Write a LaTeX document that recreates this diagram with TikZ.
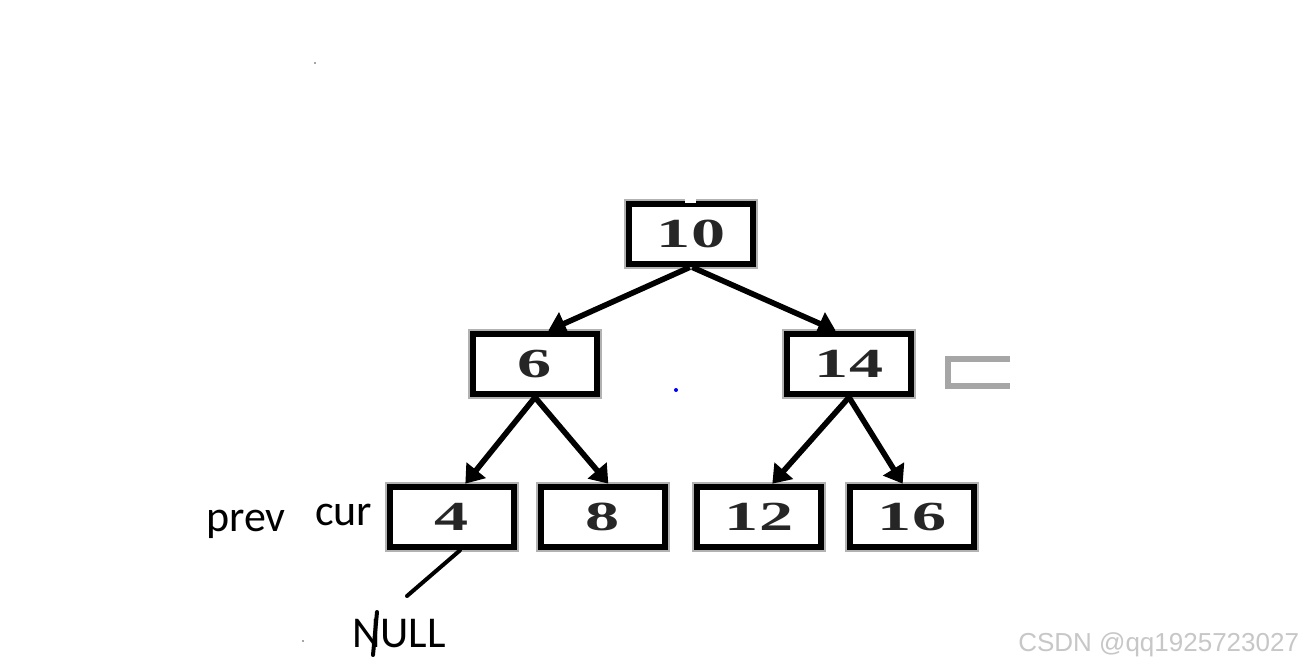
\documentclass[tikz,border=0pt]{standalone}
\usepackage{fontspec}
\setmainfont{Liberation Serif}
\newfontfamily\hand{Carlito}
\newfontfamily\wm{Liberation Sans}
\usetikzlibrary{arrows.meta}
\begin{document}
\begin{tikzpicture}[x=0.75pt,y=-0.75pt,
  tbox/.style={draw=black,line width=4.5pt,fill=white,minimum width=93pt,minimum height=45.5pt,inner sep=0pt,
    preaction={draw=black!30,line width=7.5pt},
    font=\fontsize{31pt}{31pt}\selectfont\bfseries},
  arr/.style={line width=4.2pt,-{Triangle[length=13pt,width=18pt]}},
  hand/.style={font=\hand\fontsize{33pt}{33pt}\selectfont,inner sep=0pt,anchor=base west},
  penline/.style={line width=3pt,line cap=round}]
\useasboundingbox[fill=white] (0,0) rectangle (1304,666);
% nodes
\node[tbox] (n10) at (691,234) {\scalebox{1.65}[1]{\textcolor{black!85}{10}}};
\node[tbox] (n6)  at (535,364) {\scalebox{1.65}[1]{\textcolor{black!85}{6}}};
\node[tbox] (n14) at (849,364) {\scalebox{1.65}[1]{\textcolor{black!85}{14}}};
\node[tbox] (n4)  at (452,517) {\scalebox{1.65}[1]{\textcolor{black!85}{4}}};
\node[tbox] (n8)  at (603,517) {\scalebox{1.65}[1]{\textcolor{black!85}{8}}};
\node[tbox] (n12) at (759,517) {\scalebox{1.65}[1]{\textcolor{black!85}{12}}};
\node[tbox] (n16) at (912,517) {\scalebox{1.65}[1]{\textcolor{black!85}{16}}};
% white notch on top of root
\fill[white] (685,195) rectangle (696,203);
% arrows
\draw[arr] ([xshift=-1pt]n10.south) -- ([xshift=10pt]n6.north);
\draw[arr] ([xshift=1pt]n10.south) -- ([xshift=-10pt]n14.north);
\draw[arr] (n6.south) -- ([xshift=10pt]n4.north);
\draw[arr] (n6.south) -- ([xshift=4pt]n8.north);
\draw[arr] (n14.south) -- ([xshift=10pt]n12.north);
\draw[arr] (n14.south) -- ([xshift=-7pt]n16.north);
% grey partial box
\draw[black!35,line width=4pt] (1010,359) -- (948,359) -- (948,386) -- (1010,386);
% dots
\fill[blue] (676,390) circle (2);
\fill[black!70] (315,63) circle (0.8);
\fill[black!70] (303,641) circle (0.8);
% labels
\node[hand] (prev) at (206,532) {prev};
\node[hand] (cur) at (315,526) {cur};
\node[hand] (null) at (352,647) {NULL};
\coordinate (lend) at (407,596);
\draw[penline] ([xshift=6pt]n4.south) -- (lend);
\draw[penline] (377,612) -- (373,655);
% watermark
\node[font=\wm\fontsize{19.5pt}{19.5pt}\selectfont,text=black!22,inner sep=0pt,anchor=base west] (wm) at (1018,651) {CSDN @qq1925723027};
\end{tikzpicture}
\end{document}
